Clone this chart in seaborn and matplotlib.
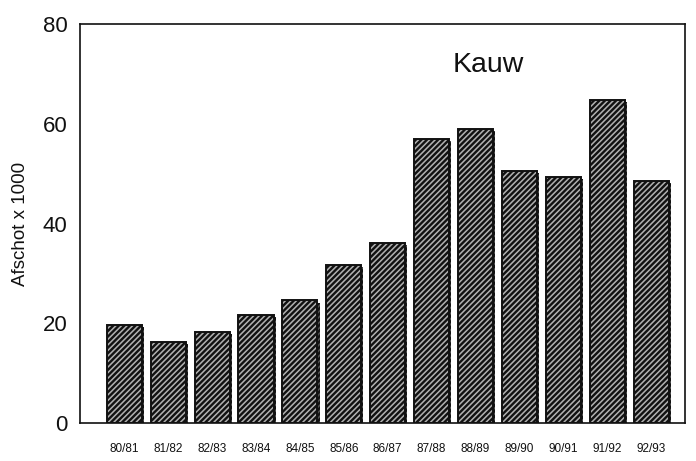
import matplotlib
matplotlib.use("Agg")
import matplotlib.pyplot as plt
import seaborn as sns
import pandas as pd
from matplotlib import patheffects as pe

seasons = ["80/81", "81/82", "82/83", "83/84", "84/85", "85/86", "86/87",
           "87/88", "88/89", "89/90", "90/91", "91/92", "92/93"]
afschot = [19.6, 16.2, 18.2, 21.6, 24.6, 31.7, 36.1, 56.9, 58.9, 50.5, 49.3, 64.7, 48.5]
title = "Kauw"
ylabel = "Afschot x 1000"

df = pd.DataFrame({"season": seasons, "afschot": afschot})

sns.set_style("white")
plt.rcParams["font.family"] = ["Arial", "Liberation Sans", "DejaVu Sans"]
plt.rcParams["hatch.color"] = "#111111"
plt.rcParams["hatch.linewidth"] = 1.7

fig = plt.figure(figsize=(6.96, 4.61), dpi=100)
ax = fig.add_axes([0.115, 0.082, 0.869, 0.866])

sns.barplot(data=df, x="season", y="afschot", ax=ax, color="#b0b0b0",
            width=0.8, edgecolor="#111111", linewidth=1.4, saturation=1)
for p in ax.patches:
    p.set_hatch("//////")
    p.set_path_effects([pe.SimplePatchShadow(offset=(1.5, -1.5), shadow_rgbFace="#222222", alpha=0.8), pe.Normal()])

ax.set_ylim(0, 80)
ax.set_xlim(-1.01, 12.77)
ax.set_yticks([0, 20, 40, 60, 80])
ax.tick_params(axis="y", direction="in", length=9, width=1.2, labelsize=16, pad=9, color="#111144",
               labelcolor="#111111")
ax.tick_params(axis="x", length=0, labelsize=8.5, pad=14, labelcolor="#111111")
ax.set_xlabel("")
ax.set_ylabel(ylabel, fontsize=13.5, labelpad=10, color="#111111")
for s in ax.spines.values():
    s.set_visible(True)
    s.set_color("#111111")
    s.set_linewidth(1.2)

ax.text(0.675, 0.897, title, transform=ax.transAxes, fontsize=20.5, ha="center", va="center",
        color="#111111")

fig.savefig("out.png", dpi=100)
